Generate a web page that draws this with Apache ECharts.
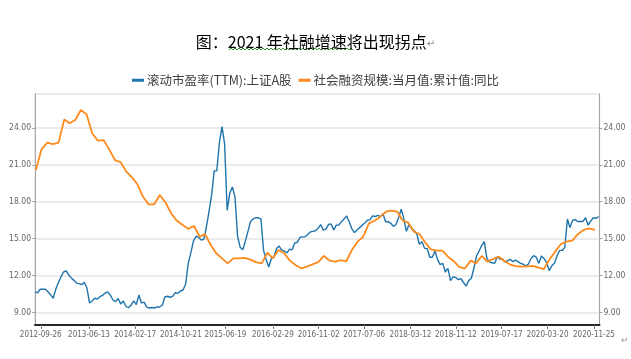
<!DOCTYPE html>
<html><head><meta charset="utf-8">
<script src="https://cdn.jsdelivr.net/npm/echarts@6/dist/echarts.min.js"></script>
<style>html,body{margin:0;padding:0;background:#fff}#c{width:631px;height:359px}</style>
</head><body><div id="c"></div>
<script>
const titleText = '图：2021 年社融增速将出现拐点';
const seriesNames = ['滚动市盈率(TTM):上证A股', '社会融资规模:当月值:累计值:同比'];
const xTickLabels = ['2012-09-26','2013-06-13','2014-02-17','2014-10-21','2015-06-19','2016-02-29','2016-11-02','2017-07-06','2018-03-12','2018-11-12','2019-07-17','2020-03-20','2020-11-25'];
const yTickValues = [9, 12, 15, 18, 21, 24];
const xRange = ['2012-08-26', '2020-12-25'];

// PE (TTM) sampled every 14 days from 2012-08-26
const peStart = '2012-08-26';
const peStepDays = 14;
const peValues = [
 10.70,10.6,10.9,10.9,10.9,10.70,10.45,10.17,10.9,11.45,
 11.9,12.3,12.4,12.06,11.82,11.62,11.4,11.36,11.27,11.47,
 11.0,9.8,9.95,10.17,10.1,10.3,10.4,10.6,10.68,10.42,
 10.03,9.9,10.15,9.7,9.95,9.52,9.4,9.62,9.95,9.65,
 10.44,9.78,9.85,9.45,9.38,9.42,9.38,9.47,9.46,9.6,
 10.27,10.33,10.25,10.32,10.62,10.57,10.76,10.84,11.3,13.0,
 13.85,14.8,15.2,15.1,14.9,14.95,15.95,17.2,18.55,20.5,
 20.5,22.8,24.09,22.7,17.3,18.7,19.2,18.4,15.2,14.3,
 14.1,14.8,15.6,16.4,16.6,16.7,16.7,16.6,14.05,13.3,
 12.7,13.4,13.5,14.2,14.4,14.08,14.0,13.85,14.15,14.1,
 14.65,14.7,15.1,15.15,15.16,15.35,15.55,15.6,15.65,15.85,
 16.15,15.7,15.78,16.15,16.2,15.7,16.1,16.1,16.38,16.6,
 16.85,16.35,15.8,15.5,15.7,15.9,16.1,16.28,16.5,16.55,
 16.85,16.8,16.9,16.8,17.0,16.38,16.4,16.25,16.0,16.15,
 16.7,17.4,16.65,15.6,16.15,15.84,15.65,15.4,14.55,14.75,
 14.22,14.2,13.5,13.5,14.0,13.3,12.9,13.0,12.3,12.6,
 11.6,11.9,11.85,11.68,11.75,11.45,11.15,11.6,11.79,12.6,
 13.6,14.0,14.45,14.76,13.4,13.1,13.05,13.0,13.54,13.35,
 13.35,13.1,13.22,13.33,13.14,13.27,13.14,13.0,12.93,12.8,
 12.95,13.4,13.62,13.5,13.0,13.6,13.4,13.05,12.4,12.8,
 13.0,13.6,14.05,14.05,14.3,16.6,15.9,16.5,16.55,16.4,
 16.4,16.4,16.7,16.1,16.45,16.7,16.65,16.8
];

// Social financing cumulative YoY, monthly (month-end) from 2012-08
const sfStart = [2012, 8];
const sfValues = [
 20.57,22.25,22.79,22.68,22.79,
 24.68,24.36,24.63,25.44,25.1,23.55,22.95,23.0,22.25,21.38,21.22,20.44,
 19.98,19.44,18.41,17.79,17.79,18.55,17.92,17.03,16.45,16.11,15.8,16.03,
 15.16,15.38,14.49,13.82,13.41,13.0,13.41,13.41,13.44,13.3,13.1,13.0,
 13.87,13.41,14.08,13.82,13.22,12.87,12.6,12.73,12.92,13.1,13.6,13.22,
 13.14,13.27,13.17,14.08,14.76,15.16,16.25,16.46,16.79,17.19,17.27,17.19,
 16.44,16.3,15.57,15.38,14.68,14.14,14.03,14.03,13.54,13.2,12.7,12.6,
 13.22,13.0,13.6,13.14,13.35,13.54,13.19,12.9,12.78,12.73,12.76,12.79,
 12.65,12.54,13.33,13.95,14.57,14.76,14.84,15.38,15.71,15.84,15.71
];

const DAY = 86400000;
function ts(s) { const p = s.split('-').map(Number); return Date.UTC(p[0], p[1] - 1, p[2]); }
function pad(n) { return (n < 10 ? '0' : '') + n; }
function fmtDate(v) { const d = new Date(v); return d.getUTCFullYear() + '-' + pad(d.getUTCMonth() + 1) + '-' + pad(d.getUTCDate()); }
const peData = peValues.map((v, i) => [ts(peStart) + i * peStepDays * DAY, v]);
const sfData = sfValues.map((v, i) => [Date.UTC(sfStart[0], sfStart[1] + i, 0), v]);
const xTickValues = xTickLabels.map(ts);

const axisFont = { fontSize: 8, color: '#666666', fontFamily: '"DejaVu Sans Condensed", "Liberation Sans Narrow", sans-serif' };
function yAxisCfg(pos) {
  return {
    type: 'value', position: pos, min: 8, max: 26.74,
    axisLine: { show: true, lineStyle: { color: '#a6a6a6', width: 1 } },
    axisTick: { show: true, customValues: yTickValues, length: 3, lineStyle: { color: '#a6a6a6' } },
    axisLabel: Object.assign({ customValues: yTickValues, margin: 4, formatter: v => Number(v).toFixed(2) }, axisFont, { fontSize: 8.5 }),
    splitLine: { show: pos === 'left', lineStyle: { color: '#e4e4e4', width: 1.5 } }
  };
}

// wavy underline decoration under part of the title
const wave = [];
for (let x = 229, k = 0; x <= 354; x += 2, k++) wave.push([x, k % 2 ? 48 : 50]);

const chart = echarts.init(document.getElementById('c'), null, { renderer: 'canvas' });
chart.setOption({
  animation: false,
  backgroundColor: '#fff',
  title: {
    text: '{m|' + titleText + '}{r|↵}', left: 'center', top: 29,
    textStyle: { fontWeight: 'normal', rich: {
      m: { fontSize: 16, color: '#000', fontWeight: 'normal', fontFamily: 'Noto Sans CJK SC' },
      r: { fontSize: 10, color: '#888', fontWeight: 'normal', fontFamily: 'DejaVu Sans', padding: [4, 0, 0, 0] }
    } }
  },
  legend: {
    data: seriesNames, top: 69, left: 'center', icon: 'rect', itemWidth: 12, itemHeight: 3, itemGap: 7,
    textStyle: { fontSize: 12.5, color: '#404040', fontFamily: 'Noto Sans CJK SC', padding: [0, 0, 0, -2] }
  },
  grid: { left: 35, right: 31.5, top: 94, bottom: 34, show: true, borderColor: '#e4e4e4', borderWidth: 1.5, containLabel: false },
  xAxis: {
    type: 'value', min: ts(xRange[0]), max: ts(xRange[1]),
    axisLine: { show: true, onZero: false, lineStyle: { color: '#262626', width: 2 } },
    axisTick: { show: true, customValues: xTickValues, length: 4, lineStyle: { color: '#7f7f7f' } },
    axisLabel: Object.assign({ customValues: xTickValues, formatter: fmtDate, margin: 6, hideOverlap: false, showMaxLabel: true, showMinLabel: true }, axisFont),
    splitLine: { show: false }
  },
  yAxis: [yAxisCfg('left'), yAxisCfg('right')],
  series: [
    { name: seriesNames[0], type: 'line', yAxisIndex: 0, data: peData, showSymbol: false, symbol: 'none',
      lineStyle: { color: '#1f74ad', width: 1.4 }, itemStyle: { color: '#1f74ad' } },
    { name: seriesNames[1], type: 'line', yAxisIndex: 1, data: sfData, showSymbol: false, symbol: 'none',
      lineStyle: { color: '#ff8a1c', width: 1.8 }, itemStyle: { color: '#ff8a1c' } }
  ],
  graphic: [
    { type: 'polyline', shape: { points: wave }, style: { stroke: '#3a9a3a', lineWidth: 1, fill: null }, silent: true },
    { type: 'text', left: 621, top: 336, style: { text: '↵', fill: '#999', fontSize: 9 }, silent: true }
  ]
});
</script></body></html>
